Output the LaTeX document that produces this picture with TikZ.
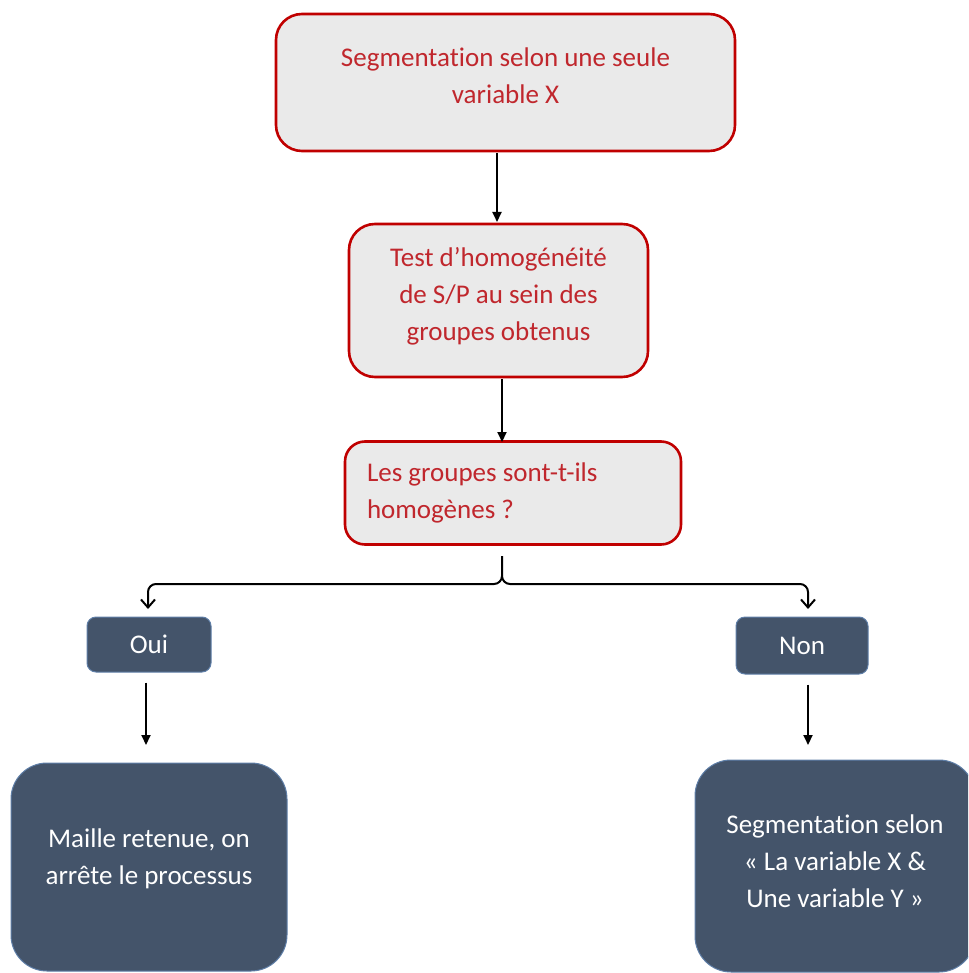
\documentclass[tikz,border=0pt]{standalone}
\usepackage{fontspec}
\setmainfont{Carlito}[Ligatures=NoCommon]
\usetikzlibrary{arrows.meta}
\definecolor{redline}{HTML}{C00000}
\definecolor{redtext}{HTML}{C0272D}
\definecolor{grayfill}{HTML}{EAEAEA}
\definecolor{slate}{HTML}{44546A}
\definecolor{slateedge}{HTML}{5F7FA8}
\tikzset{
  redbox/.style={draw=redline, line width=2.6pt, fill=grayfill, text=redtext, align=center,
    font=\fontsize{27}{37}\selectfont, inner sep=0pt},
  darkbox/.style={draw=slateedge, line width=1pt, fill=slate, text=white, align=center,
    font=\fontsize{27}{37}\selectfont, inner sep=0pt},
  conn/.style={line width=2pt, -{Triangle[length=10pt,width=9pt]}},
  bconn/.style={line width=2pt, -{Straight Barb[length=8pt,width=14pt,line width=2pt]}}
}
\begin{document}
\begin{tikzpicture}[x=1pt,y=-1pt]
\useasboundingbox (0,0) rectangle (968,973);
\begin{scope}
\clip (0,0) rectangle (968,973);
\node[redbox, rounded corners=26pt, minimum width=459pt, minimum height=137pt, text depth=13pt] (seg) at (505.5,82.5)
  {Segmentation selon une seule\\variable X};
\node[redbox, rounded corners=26pt, minimum width=299pt, minimum height=153pt, text depth=14pt] (test) at (498.5,300.5)
  {Test d’homogénéité\\de S/P au sein des\\groupes obtenus};
\node[redbox, rounded corners=20pt, minimum width=336pt, minimum height=103pt, align=flush left,
  text width=292pt, inner xsep=22pt] (q) at (513,493)
  {Les groupes sont-t-ils\\homogènes ?};
\node[darkbox, rounded corners=9pt, minimum width=124pt, minimum height=55pt] (oui) at (149,644.5) {Oui};
\node[darkbox, rounded corners=9pt, minimum width=132pt, minimum height=57pt] (non) at (802,645.5) {Non};
\node[darkbox, rounded corners=36pt, minimum width=276pt, minimum height=208pt, text depth=21pt] (maille) at (149,867)
  {Maille retenue, on\\arrête le processus};
\node[darkbox, rounded corners=36pt, minimum width=280pt, minimum height=212pt, text depth=10pt] (segxy) at (835,866)
  {Segmentation selon\\« La variable X \&\\Une variable Y »};
\end{scope}
\coordinate (qb) at (502,556);
\coordinate (bc) at (502,576);
\coordinate (lt) at (148,609);
\coordinate (rt) at (808,609);
\draw[conn] (seg.south -| 497,0) ++(0,1) -- (497,222);
\draw[conn] (test.south -| 502,0) ++(0,1) -- (502,442);
\draw[bconn] (qb) -- (bc) to[out=-90,in=0] (494,584) -- (156,584) to[out=180,in=90] (148,592) -- (lt);
\draw[bconn] (bc) to[out=-90,in=180] (510,584) -- (800,584) to[out=0,in=90] (808,592) -- (rt);
\draw[conn] (oui.south -| 146,0) ++(0,10) -- (146,745);
\draw[conn] (non.south -| 808,0) ++(0,10) -- (808,745);
\end{tikzpicture}
\end{document}
